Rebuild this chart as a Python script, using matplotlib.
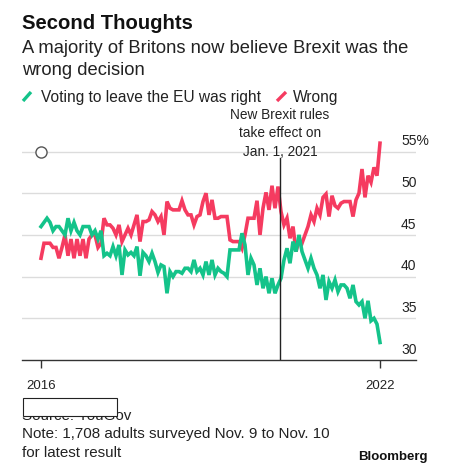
import numpy as np
import matplotlib
matplotlib.use('Agg')
import matplotlib.pyplot as plt
from matplotlib.lines import Line2D
from matplotlib.patches import Rectangle

plt.rcParams['font.family'] = ['Liberation Sans', 'DejaVu Sans']

# YouGov polls, oldest to newest (% of Britons)
right = [46.0, 46.5, 47.0, 46.5, 45.5, 46.0, 46.0, 45.5, 45.0, 47.0,
         45.5, 46.5, 45.5, 45.0, 46.0, 46.0, 46.0, 45.0, 45.5, 44.5,
         45.5, 42.5, 42.8, 42.5, 43.6, 42.5, 43.8, 40.2, 43.2, 42.6,
         42.9, 42.5, 43.6, 40.1, 42.9, 42.5, 41.8, 42.8, 41.8, 40.5,
         41.4, 41.2, 38.0, 40.6, 40.0, 40.6, 40.6, 40.4, 41.0, 41.0,
         40.6, 42.0, 40.6, 41.0, 40.2, 41.8, 40.2, 42.0, 40.2, 41.0,
         40.6, 40.4, 40.0, 43.2, 43.2, 43.2, 43.2, 45.2, 43.8, 40.2,
         42.2, 41.4, 39.0, 41.0, 38.6, 40.0, 38.0, 39.8, 38.0, 39.0,
         39.8, 42.0, 43.4, 41.6, 44.2, 43.0, 45.0, 43.0, 42.0, 41.0,
         42.2, 41.0, 40.2, 38.6, 40.2, 37.2, 39.4, 38.6, 39.6, 38.2,
         39.0, 39.0, 38.6, 37.4, 39.0, 37.0, 36.6, 37.0, 35.0, 37.1,
         34.7, 35.0, 34.3, 32.1]
wrong = [42.2, 44.0, 44.0, 44.0, 43.5, 43.5, 42.2, 43.5, 45.0, 42.5,
         44.5, 42.2, 44.5, 42.5, 44.5, 42.2, 44.5, 45.0, 45.0, 43.5,
         44.0, 47.0, 46.2, 46.2, 45.8, 45.0, 46.2, 44.2, 45.0, 45.8,
         45.0, 46.2, 47.4, 44.2, 46.6, 46.6, 46.8, 47.8, 47.4, 46.6,
         47.2, 45.0, 49.0, 48.2, 48.0, 48.0, 48.0, 49.1, 48.0, 47.4,
         47.4, 46.2, 47.2, 47.4, 49.0, 50.0, 47.4, 49.2, 47.0, 47.0,
         47.2, 47.2, 47.2, 44.4, 44.2, 44.2, 44.2, 43.4, 45.0, 47.0,
         47.0, 47.0, 49.1, 45.0, 48.2, 50.1, 48.0, 50.9, 48.2, 50.8,
         47.8, 46.2, 47.0, 44.6, 46.0, 43.0, 44.4, 44.0, 45.0, 46.0,
         47.4, 46.6, 48.2, 47.4, 49.5, 49.9, 47.2, 49.7, 48.5, 48.2,
         48.8, 49.0, 49.0, 49.0, 47.2, 49.2, 50.0, 52.9, 49.5, 52.1,
         51.3, 53.1, 52.1, 56.0]
rules_change = 79.7   # survey position of Jan. 1, 2021
year_labels = ['2016', '2022']
y_ticks = [30, 35, 40, 45, 50, 55]

green = '#14c38a'
red = '#f53b60'

x = np.arange(len(right))

fig = plt.figure(figsize=(4.5, 4.77), dpi=100)
ax = fig.add_axes([22 / 450, 1 - 361 / 477, 394 / 450, 221 / 477])

step = 3.0
ax.set_xlim(-(41 - 22) / step, x[-1] + (416 - 380) / step)
ax.set_ylim(30, 56.5)

for v in y_ticks[1:]:
    ax.axhline(v, color='#dcdcdc', lw=1, zorder=0)

ax.plot(x, wrong, color=red, lw=2.6, solid_joinstyle='miter', zorder=2)
ax.plot(x, right, color=green, lw=2.6, solid_joinstyle='miter', zorder=3)

ax.axvline(rules_change, ymin=0, ymax=(361 - 159) / 221, color='#222222', lw=1, zorder=4)
ax.plot(0, 55, 'o', mfc='white', mec='#555555', ms=8, mew=1, zorder=5)

for sp in ['top', 'left', 'right']:
    ax.spines[sp].set_visible(False)
ax.spines['bottom'].set_color('#333333')
ax.spines['bottom'].set_linewidth(1)

ax.set_yticks([])
ax.set_xticks([x[0], x[-1]])
ax.set_xticklabels(year_labels, fontsize=9.5, color='#222222')
ax.tick_params(axis='x', length=6, width=1, color='#333333', pad=8)

for v in y_ticks:
    lab = '55%' if v == 55 else str(v)
    ax.annotate(lab, xy=(0.962, v), xycoords=('axes fraction', 'data'),
                xytext=(0, 3), textcoords='offset points',
                ha='left', va='bottom', fontsize=10, color='#222222')

ax.text(rules_change, 54.25, 'New Brexit rules\ntake effect on\nJan. 1, 2021',
        ha='center', va='bottom', fontsize=9.8, linespacing=1.4, color='#222222',
        clip_on=False)

def fx(px):
    return px / 450

def fy(py):
    return 1 - py / 477

fig.text(fx(22), fy(29), 'Second Thoughts', fontsize=14.6, fontweight='bold',
         va='baseline', color='#111111')
fig.text(fx(22), fy(53), 'A majority of Britons now believe Brexit was the',
         fontsize=13.2, va='baseline', color='#222222')
fig.text(fx(22), fy(75), 'wrong decision', fontsize=13.2, va='baseline', color='#222222')

fig.add_artist(Line2D([fx(23), fx(31)], [fy(102), fy(93)], color=green, lw=2.4,
                      solid_capstyle='butt'))
fig.text(fx(41), fy(102), 'Voting to leave the EU was right', fontsize=11.2,
         va='baseline', color='#222222')
fig.add_artist(Line2D([fx(277), fx(286)], [fy(102), fy(93)], color=red, lw=2.4,
                      solid_capstyle='butt'))
fig.text(fx(293), fy(102), 'Wrong', fontsize=11.2, va='baseline', color='#222222')

fig.text(fx(22), fy(420), 'Source: YouGov', fontsize=10.9, va='baseline',
         color='#222222', zorder=1)
fig.text(fx(22), fy(438.5), 'Note: 1,708 adults surveyed Nov. 9 to Nov. 10',
         fontsize=10.9, va='baseline', color='#222222')
fig.text(fx(22), fy(457.5), 'for latest result', fontsize=10.9, va='baseline', color='#222222')
fig.add_artist(Rectangle((fx(22.5), fy(416.5)), fx(94), 18 / 477, facecolor='white',
                         edgecolor='#222222', lw=0.8, transform=fig.transFigure,
                         zorder=10))
fig.text(fx(428), fy(460.5), 'Bloomberg', fontsize=9.5, fontweight='bold',
         ha='right', va='baseline', color='#111111')

fig.savefig('out.png', dpi=100)
